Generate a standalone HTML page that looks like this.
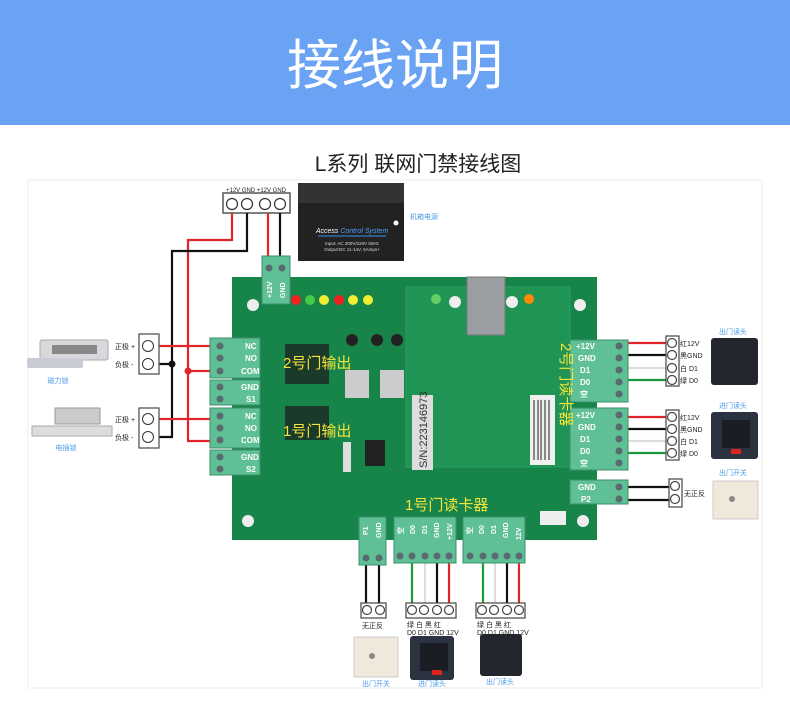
<!DOCTYPE html>
<html><head><meta charset="utf-8"><style>
html,body{margin:0;padding:0;background:#fff;}
svg{display:block;}
text{font-family:"Liberation Sans","Noto Sans CJK SC",sans-serif;}
</style></head><body>
<svg width="790" height="716" viewBox="0 0 790 716" xmlns="http://www.w3.org/2000/svg">
<rect x="0" y="0" width="790" height="125" fill="#6aa3f3"/>
<text x="395" y="84" text-anchor="middle" font-size="54" fill="#fff">接线说明</text>
<rect x="28" y="180" width="734" height="508" fill="none" stroke="#eee" stroke-width="1"/>
<text x="418" y="171" text-anchor="middle" font-size="21" fill="#222">L系列  联网门禁接线图</text>

<rect x="298" y="183" width="106" height="78" fill="#222"/>
<rect x="298" y="183" width="106" height="20" fill="#333"/>
<text x="352" y="233" text-anchor="middle" font-size="7" fill="#fff" font-style="italic">Access <tspan fill="#4aa0ff">Control System</tspan></text>
<line x1="318" y1="236" x2="386" y2="236" stroke="#3a8df0" stroke-width="1"/>
<text x="352" y="245" text-anchor="middle" font-size="4.5" fill="#ddd">Input: AC 200V/220V 50Hz</text>
<text x="352" y="251" text-anchor="middle" font-size="4.5" fill="#ddd">Output:DC 11-14V, 5Amps+</text>
<circle cx="396" cy="223" r="2.5" fill="#fff"/>
<text x="410" y="219" font-size="7" fill="#4a9be8">机箱电源</text>

<text x="256" y="192" text-anchor="middle" font-size="6" fill="#222">+12V GND +12V GND</text>
<rect x="223" y="193" width="67" height="20" fill="#fff" stroke="#555" stroke-width="1.5"/>
<g fill="#fff" stroke="#333" stroke-width="1.2">
<circle cx="232" cy="204" r="5.5"/><circle cx="247" cy="204" r="5.5"/><circle cx="265" cy="204" r="5.5"/><circle cx="280" cy="204" r="5.5"/></g>

<g fill="none" stroke-width="2.2">
<polyline points="232,213 232,240 188,240 188,441 212,441" stroke="#e0262b"/>
<polyline points="247,213 247,251 172,251 172,437 155,437" stroke="#111"/>
<line x1="268" y1="213" x2="268" y2="258" stroke="#e0262b"/>
<line x1="280" y1="213" x2="280" y2="258" stroke="#111"/>
<line x1="155" y1="346" x2="212" y2="346" stroke="#e0262b"/>
<line x1="155" y1="364" x2="172" y2="364" stroke="#111"/>
<line x1="188" y1="371" x2="212" y2="371" stroke="#e0262b"/>
<line x1="155" y1="419" x2="212" y2="419" stroke="#e0262b"/>
<line x1="626" y1="343" x2="667" y2="343" stroke="#e0262b"/>
<line x1="626" y1="355" x2="667" y2="355" stroke="#111"/>
<line x1="626" y1="368" x2="667" y2="368" stroke="#ddd"/>
<line x1="626" y1="380" x2="667" y2="380" stroke="#1a9a3a"/>
<line x1="626" y1="417" x2="667" y2="417" stroke="#e0262b"/>
<line x1="626" y1="429" x2="667" y2="429" stroke="#111"/>
<line x1="626" y1="441" x2="667" y2="441" stroke="#ddd"/>
<line x1="626" y1="453" x2="667" y2="453" stroke="#1a9a3a"/>
<line x1="626" y1="487" x2="670" y2="487" stroke="#111"/>
<line x1="626" y1="500" x2="670" y2="500" stroke="#111"/>
<line x1="366" y1="565" x2="366" y2="603" stroke="#111"/>
<line x1="379" y1="565" x2="379" y2="603" stroke="#111"/>
<line x1="412" y1="563" x2="412" y2="603" stroke="#1a9a3a"/>
<line x1="425" y1="563" x2="425" y2="603" stroke="#ddd"/>
<line x1="437" y1="563" x2="437" y2="603" stroke="#111"/>
<line x1="449" y1="563" x2="449" y2="603" stroke="#e0262b"/>
<line x1="483" y1="563" x2="483" y2="603" stroke="#1a9a3a"/>
<line x1="495" y1="563" x2="495" y2="603" stroke="#ddd"/>
<line x1="507" y1="563" x2="507" y2="603" stroke="#111"/>
<line x1="519" y1="563" x2="519" y2="603" stroke="#e0262b"/>
</g>
<circle cx="172" cy="364" r="3.5" fill="#111"/>
<circle cx="188" cy="371" r="3.5" fill="#e0262b"/>

<rect x="139" y="334" width="20" height="40" fill="#fff" stroke="#555" stroke-width="1.3"/>
<circle cx="148" cy="346" r="5.5" fill="#fff" stroke="#333"/><circle cx="148" cy="364" r="5.5" fill="#fff" stroke="#333"/>
<rect x="139" y="408" width="20" height="40" fill="#fff" stroke="#555" stroke-width="1.3"/>
<circle cx="148" cy="419" r="5.5" fill="#fff" stroke="#333"/><circle cx="148" cy="437" r="5.5" fill="#fff" stroke="#333"/>
<g font-size="7" fill="#222"><text x="115" y="349">正极 +</text><text x="115" y="367">负极 -</text><text x="115" y="422">正极 +</text><text x="115" y="440">负极 -</text></g>
<rect x="40" y="340" width="68" height="20" rx="2" fill="#d8d8dc" stroke="#aaa"/>
<rect x="52" y="345" width="45" height="9" fill="#888"/>
<rect x="27" y="358" width="56" height="10" rx="2" fill="#c8ccd4"/>
<text x="58" y="383" text-anchor="middle" font-size="7" fill="#4a9be8">磁力锁</text>
<rect x="55" y="408" width="45" height="16" fill="#ccc" stroke="#999"/>
<rect x="32" y="426" width="80" height="10" fill="#ddd" stroke="#aaa"/>
<text x="66" y="450" text-anchor="middle" font-size="7" fill="#4a9be8">电插锁</text>

<rect x="232" y="277" width="365" height="263" fill="#17854a"/>
<rect x="406" y="287" width="164" height="180" fill="#1f9455" stroke="#2aa062"/>
<rect x="467" y="277" width="38" height="58" fill="#9a9ea2" stroke="#777"/>
<circle cx="253" cy="305" r="6" fill="#eee"/><circle cx="580" cy="305" r="6" fill="#eee"/>
<circle cx="248" cy="521" r="6" fill="#eee"/><circle cx="583" cy="521" r="6" fill="#eee"/>
<circle cx="455" cy="302" r="6" fill="#eee"/><circle cx="512" cy="302" r="6" fill="#eee"/>
<circle cx="296" cy="300" r="5" fill="#e22"/><circle cx="310" cy="300" r="5" fill="#4c4"/><circle cx="324" cy="300" r="5" fill="#ee3"/><circle cx="339" cy="300" r="5" fill="#e22"/><circle cx="353" cy="300" r="5" fill="#ee3"/><circle cx="368" cy="300" r="5" fill="#ee3"/>
<circle cx="436" cy="299" r="5" fill="#6c6"/><circle cx="529" cy="299" r="5" fill="#f80"/>
<rect x="285" y="344" width="44" height="40" fill="#1a3a2a"/>
<rect x="285" y="406" width="44" height="34" fill="#1a3a2a"/>
<rect x="345" y="370" width="24" height="28" fill="#ccc"/><rect x="380" y="370" width="24" height="28" fill="#ccc"/>
<circle cx="352" cy="340" r="6" fill="#222"/><circle cx="377" cy="340" r="6" fill="#222"/><circle cx="397" cy="340" r="6" fill="#222"/>
<rect x="365" y="440" width="20" height="26" fill="#222"/>
<rect x="343" y="442" width="8" height="30" fill="#ddd"/>
<rect x="412" y="395" width="21" height="75" fill="#ddd"/>
<text transform="translate(427,468) rotate(-90)" font-size="11" fill="#333">S/N:223146973</text>
<rect x="530" y="395" width="25" height="70" fill="#f0f0f0"/>
<g stroke="#222" stroke-width="1"><line x1="534" y1="400" x2="534" y2="460"/><line x1="538" y1="400" x2="538" y2="460"/><line x1="541" y1="400" x2="541" y2="460"/><line x1="545" y1="400" x2="545" y2="460"/><line x1="549" y1="400" x2="549" y2="460"/></g>
<rect x="540" y="511" width="26" height="14" fill="#eee"/>
<g fill="#5fbf95" stroke="#3c8f6c" stroke-width="1">
<rect x="262" y="256" width="28" height="48"/>
<rect x="210" y="338" width="50" height="40"/><rect x="210" y="380" width="50" height="25"/>
<rect x="210" y="408" width="50" height="40"/><rect x="210" y="450" width="50" height="25"/>
<rect x="570" y="340" width="58" height="62"/><rect x="570" y="408" width="58" height="62"/><rect x="570" y="480" width="58" height="24"/>
<rect x="359" y="517" width="27" height="48"/><rect x="394" y="517" width="62" height="46"/><rect x="463" y="517" width="62" height="46"/>
</g>
<g font-size="15" fill="#f6e43a">
<text x="283" y="368">2号门输出</text>
<text x="283" y="436">1号门输出</text>
<text x="405" y="510">1号门读卡器</text>
<text transform="translate(561,343) rotate(90)">2号门读卡器</text>
</g>
<g fill="#5a6a70">
<circle cx="220" cy="346" r="3.5"/><circle cx="220" cy="358" r="3.5"/><circle cx="220" cy="371" r="3.5"/><circle cx="220" cy="387" r="3.5"/><circle cx="220" cy="399" r="3.5"/>
<circle cx="220" cy="416" r="3.5"/><circle cx="220" cy="428" r="3.5"/><circle cx="220" cy="440" r="3.5"/><circle cx="220" cy="457" r="3.5"/><circle cx="220" cy="469" r="3.5"/>
<circle cx="619" cy="346" r="3.5"/><circle cx="619" cy="358" r="3.5"/><circle cx="619" cy="370" r="3.5"/><circle cx="619" cy="382" r="3.5"/><circle cx="619" cy="394" r="3.5"/>
<circle cx="619" cy="415" r="3.5"/><circle cx="619" cy="427" r="3.5"/><circle cx="619" cy="439" r="3.5"/><circle cx="619" cy="451" r="3.5"/><circle cx="619" cy="463" r="3.5"/>
<circle cx="619" cy="487" r="3.5"/><circle cx="619" cy="499" r="3.5"/>
<circle cx="269" cy="268" r="3.5"/><circle cx="282" cy="268" r="3.5"/>
</g>
<g font-size="8" fill="#fff" font-weight="bold">
<text x="245" y="349">NC</text><text x="245" y="361">NO</text><text x="241" y="374">COM</text><text x="241" y="390">GND</text><text x="246" y="402">S1</text>
<text x="245" y="419">NC</text><text x="245" y="431">NO</text><text x="241" y="443">COM</text><text x="241" y="460">GND</text><text x="246" y="472">S2</text>
<text x="576" y="349">+12V</text><text x="578" y="361">GND</text><text x="580" y="373">D1</text><text x="580" y="385">D0</text><text x="580" y="397">空</text>
<text x="576" y="418">+12V</text><text x="578" y="430">GND</text><text x="580" y="442">D1</text><text x="580" y="454">D0</text><text x="580" y="466">空</text>
<text x="578" y="490">GND</text><text x="581" y="502">P2</text>
</g>
<g font-size="7" fill="#fff" font-weight="bold">
<text transform="translate(272,298) rotate(-90)">+12V</text><text transform="translate(285,298) rotate(-90)">GND</text>
<text transform="translate(368,535) rotate(-90)">P1</text><text transform="translate(381,538) rotate(-90)">GND</text>
<text transform="translate(403,534) rotate(-90)">空</text><text transform="translate(415,534) rotate(-90)">D0</text><text transform="translate(427,534) rotate(-90)">D1</text><text transform="translate(439,538) rotate(-90)">GND</text><text transform="translate(452,540) rotate(-90)">+12V</text>
<text transform="translate(472,534) rotate(-90)">空</text><text transform="translate(484,534) rotate(-90)">D0</text><text transform="translate(496,534) rotate(-90)">D1</text><text transform="translate(508,538) rotate(-90)">GND</text><text transform="translate(521,540) rotate(-90)">12V</text>
</g>
<g fill="#5a6a70"><circle cx="366" cy="558" r="3.5"/><circle cx="379" cy="558" r="3.5"/>
<circle cx="400" cy="556" r="3.5"/><circle cx="412" cy="556" r="3.5"/><circle cx="425" cy="556" r="3.5"/><circle cx="437" cy="556" r="3.5"/><circle cx="449" cy="556" r="3.5"/>
<circle cx="470" cy="556" r="3.5"/><circle cx="483" cy="556" r="3.5"/><circle cx="495" cy="556" r="3.5"/><circle cx="507" cy="556" r="3.5"/><circle cx="519" cy="556" r="3.5"/></g>

<g fill="#fff" stroke="#444" stroke-width="1.2">
<rect x="666" y="336" width="13" height="50"/><rect x="666" y="410" width="13" height="50"/><rect x="669" y="479" width="13" height="28"/>
<circle cx="672" cy="343" r="4.5"/><circle cx="672" cy="355" r="4.5"/><circle cx="672" cy="368" r="4.5"/><circle cx="672" cy="380" r="4.5"/>
<circle cx="672" cy="417" r="4.5"/><circle cx="672" cy="429" r="4.5"/><circle cx="672" cy="441" r="4.5"/><circle cx="672" cy="453" r="4.5"/>
<circle cx="675" cy="486" r="4.5"/><circle cx="675" cy="499" r="4.5"/>
<rect x="361" y="603" width="25" height="15"/><rect x="406" y="603" width="50" height="15"/><rect x="476" y="603" width="49" height="15"/>
<circle cx="367" cy="610" r="4.5"/><circle cx="380" cy="610" r="4.5"/>
<circle cx="412" cy="610" r="4.5"/><circle cx="424" cy="610" r="4.5"/><circle cx="437" cy="610" r="4.5"/><circle cx="449" cy="610" r="4.5"/>
<circle cx="482" cy="610" r="4.5"/><circle cx="494" cy="610" r="4.5"/><circle cx="507" cy="610" r="4.5"/><circle cx="519" cy="610" r="4.5"/>
</g>
<g font-size="7" fill="#222">
<text x="680" y="346">红12V</text><text x="680" y="358">黑GND</text><text x="680" y="371">白 D1</text><text x="680" y="383">绿 D0</text>
<text x="680" y="420">红12V</text><text x="680" y="432">黑GND</text><text x="680" y="444">白 D1</text><text x="680" y="456">绿 D0</text>
<text x="684" y="496">无正反</text>
<text x="362" y="628">无正反</text>
<text x="407" y="627">绿 白 黑 红</text><text x="407" y="635">D0 D1 GND 12V</text>
<text x="477" y="627">绿 白 黑 红</text><text x="477" y="635">D0 D1 GND 12V</text>
</g>
<g font-size="7" fill="#4a9be8" text-anchor="middle">
<text x="733" y="334">出门读头</text><text x="733" y="408">进门读头</text><text x="733" y="475">出门开关</text>
<text x="376" y="686">出门开关</text><text x="432" y="686">进门读头</text><text x="500" y="684">出门读头</text>
</g>
<rect x="711" y="338" width="47" height="47" rx="3" fill="#23272d"/>
<rect x="711" y="412" width="47" height="47" rx="3" fill="#2c3340"/>
<rect x="722" y="420" width="28" height="28" fill="#1a1e24"/><rect x="731" y="449" width="10" height="5" fill="#d22"/>
<rect x="713" y="481" width="45" height="38" fill="#efe9dc" stroke="#ccc"/>
<circle cx="732" cy="499" r="3" fill="#888"/>
<rect x="354" y="637" width="44" height="40" fill="#efe9dc" stroke="#ccc"/>
<circle cx="372" cy="656" r="3" fill="#888"/>
<rect x="410" y="636" width="44" height="44" rx="3" fill="#2c3340"/>
<rect x="420" y="643" width="28" height="28" fill="#1a1e24"/><rect x="432" y="670" width="10" height="5" fill="#d22"/>
<rect x="480" y="634" width="42" height="42" rx="3" fill="#23272d"/>
</svg>
</body></html>
